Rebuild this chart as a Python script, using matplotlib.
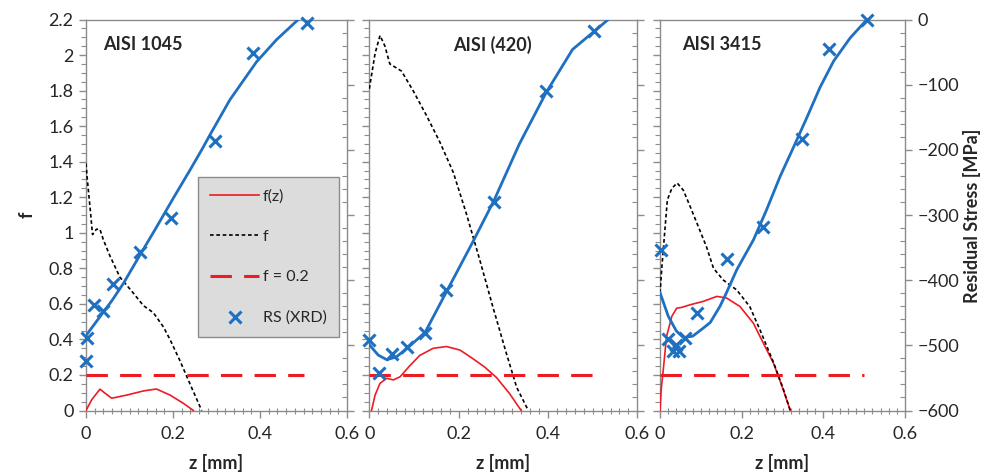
import matplotlib
matplotlib.use('Agg')
import matplotlib.pyplot as plt
from matplotlib.ticker import MultipleLocator, FuncFormatter
from matplotlib.lines import Line2D

plt.rcParams['font.family'] = ['Lato', 'DejaVu Sans']

# ---------------- data ----------------
titles = ['AISI 1045', 'AISI (420)', 'AISI 3415']

# f(z) red solid curves
fz_z_1045 = [0, 0.013, 0.032, 0.044, 0.059, 0.094, 0.132, 0.162, 0.193, 0.224, 0.247]
fz_f_1045 = [0, 0.06, 0.12, 0.097, 0.069, 0.087, 0.11, 0.121, 0.087, 0.04, 0]
fz_z_420 = [0.005, 0.013, 0.024, 0.039, 0.054, 0.069, 0.09, 0.113, 0.143, 0.173, 0.203, 0.23, 0.258, 0.285, 0.314, 0.34]
fz_f_420 = [0, 0.087, 0.153, 0.181, 0.172, 0.19, 0.25, 0.31, 0.35, 0.36, 0.34, 0.295, 0.245, 0.185, 0.095, 0]
fz_z_3415 = [0, 0.003, 0.008, 0.016, 0.029, 0.041, 0.053, 0.074, 0.106, 0.139, 0.163, 0.196, 0.229, 0.245, 0.278, 0.302, 0.319]
fz_f_3415 = [0, 0.12, 0.228, 0.416, 0.53, 0.576, 0.58, 0.595, 0.614, 0.642, 0.633, 0.585, 0.49, 0.416, 0.266, 0.116, 0]

# f black dashed curves
f_z_1045 = [0, 0.003, 0.009, 0.015, 0.024, 0.032, 0.04, 0.055, 0.078, 0.109, 0.132, 0.155, 0.178, 0.193, 0.216, 0.239, 0.266]
f_f_1045 = [1.39, 1.30, 1.15, 0.99, 1.02, 1.02, 0.96, 0.87, 0.75, 0.66, 0.59, 0.55, 0.47, 0.40, 0.28, 0.15, 0]
f_z_420 = [0, 0.013, 0.024, 0.035, 0.046, 0.072, 0.098, 0.128, 0.158, 0.188, 0.217, 0.247, 0.277, 0.307, 0.33, 0.356]
f_f_420 = [1.81, 2.01, 2.11, 2.05, 1.95, 1.91, 1.80, 1.66, 1.51, 1.34, 1.11, 0.85, 0.58, 0.32, 0.13, 0]
f_z_3415 = [0, 0.004, 0.012, 0.018, 0.029, 0.042, 0.057, 0.074, 0.094, 0.114, 0.131, 0.155, 0.188, 0.22, 0.245, 0.278, 0.302, 0.319]
f_f_3415 = [0.66, 0.79, 1.016, 1.185, 1.25, 1.28, 1.24, 1.147, 1.034, 0.92, 0.80, 0.734, 0.678, 0.584, 0.453, 0.27, 0.12, 0]

# threshold f = 0.2
thr_z = [0, 0.5]
thr_f = [0.2, 0.2]

# residual stress fit curves (MPa)
rs_fit_z_1045 = [0, 0.03, 0.06, 0.086, 0.12, 0.16, 0.2, 0.24, 0.266, 0.285, 0.331, 0.392, 0.438, 0.488]
rs_fit_1045 = [-485, -458, -431, -405, -366, -321, -275, -230, -200, -177, -123, -65, -31, 0]
rs_fit_z_420 = [0, 0.02, 0.039, 0.06, 0.084, 0.125, 0.171, 0.232, 0.279, 0.336, 0.396, 0.455, 0.502, 0.535]
rs_fit_420 = [-499, -515, -522, -518, -505, -480, -420, -341, -278, -191, -112, -46, -19, 0]
rs_fit_z_3415 = [0, 0.02, 0.04, 0.057, 0.08, 0.105, 0.123, 0.147, 0.163, 0.188, 0.229, 0.261, 0.294, 0.327, 0.36, 0.392, 0.425, 0.466, 0.507]
rs_fit_3415 = [-419, -455, -478, -488, -486, -474, -465, -440, -419, -384, -338, -292, -241, -196, -150, -104, -64, -28, 0]

# residual stress XRD measurements (MPa)
rs_z_1045 = [0, 0.003, 0.018, 0.038, 0.063, 0.123, 0.195, 0.296, 0.383, 0.508]
rs_1045 = [-524, -489, -438, -448, -406, -357, -305, -186, -51, -5]
rs_z_420 = [0, 0.022, 0.05, 0.084, 0.125, 0.171, 0.279, 0.396, 0.502]
rs_420 = [-492, -542, -513, -502, -481, -415, -280, -109, -18]
rs_z_3415 = [0.002, 0.020, 0.033, 0.039, 0.047, 0.061, 0.090, 0.163, 0.253, 0.347, 0.414, 0.507]
rs_3415 = [-354, -490, -508, -500, -508, -488, -450, -368, -319, -183, -46, 0]

fz_z = [fz_z_1045, fz_z_420, fz_z_3415]
fz_f = [fz_f_1045, fz_f_420, fz_f_3415]
f_z = [f_z_1045, f_z_420, f_z_3415]
f_f = [f_f_1045, f_f_420, f_f_3415]
rsf_z = [rs_fit_z_1045, rs_fit_z_420, rs_fit_z_3415]
rsf = [rs_fit_1045, rs_fit_420, rs_fit_3415]
rsm_z = [rs_z_1045, rs_z_420, rs_z_3415]
rsm = [rs_1045, rs_420, rs_3415]

legend_labels = ['f(z)', 'f', 'f = 0.2', 'RS (XRD)']

# ---------------- style ----------------
RED = '#EC1C24'
BLUE = '#1F70C1'
GRAY = '#8C8C8C'
TXT = '#262626'
FS = 13

fig = plt.figure(figsize=(10, 4.74), dpi=100)
fig.patch.set_facecolor('white')

bottom = 1 - 410.5 / 474
height = (410.5 - 19.5) / 474
positions = [[0.086, bottom, 0.261, height],
             [0.3693, bottom, 0.268, height],
             [0.660, bottom, 0.245, height]]
title_pos = [(0.065, 'left'), (0.458, 'center'), (0.089, 'left')]

fmt = FuncFormatter(lambda v, p: '%g' % round(v, 3))

for i in range(3):
    ax = fig.add_axes(positions[i])
    ax.set_xlim(0, 0.6)
    ax.set_ylim(0, 2.2)
    for s in ax.spines.values():
        s.set_color(GRAY)
        s.set_linewidth(1.0)
    ax.xaxis.set_major_locator(MultipleLocator(0.2))
    ax.xaxis.set_minor_locator(MultipleLocator(0.02))
    ax.yaxis.set_major_locator(MultipleLocator(0.2))
    ax.yaxis.set_minor_locator(MultipleLocator(0.05))
    ax.xaxis.set_major_formatter(fmt)
    ax.yaxis.set_major_formatter(fmt)
    ax.tick_params(axis='both', which='major', direction='out', length=5, width=1,
                   color=GRAY, labelsize=FS, labelcolor=TXT, pad=4)
    ax.tick_params(axis='x', which='major', pad=6)
    ax.tick_params(axis='y', which='minor', direction='out', length=3.5, width=0.8, color=GRAY)
    ax.tick_params(axis='x', which='minor', direction='inout', length=5, width=0.8, color=GRAY)
    if i > 0:
        ax.tick_params(axis='y', labelleft=False)

    ax.plot(fz_z[i], fz_f[i], color=RED, lw=1.2, zorder=3)
    ax.plot(f_z[i], f_f[i], color='black', lw=1.2, ls=(0, (2.2, 1.6)), zorder=3)
    ax.plot(thr_z, thr_f, color=RED, lw=2.2, ls=(0, (7, 4)), zorder=3)

    ax2 = ax.twinx()
    ax2.set_ylim(-600, 0)
    for s in ax2.spines.values():
        s.set_visible(False)
    ax2.yaxis.set_major_locator(MultipleLocator(100))
    ax2.yaxis.set_minor_locator(MultipleLocator(20))
    ax2.tick_params(axis='y', which='major', direction='out', length=5, width=1,
                    color=GRAY, labelsize=FS, labelcolor=TXT, pad=4)
    ax2.tick_params(axis='y', which='minor', direction='in', length=3.5, width=0.8, color=GRAY)
    if i < 2:
        ax2.tick_params(axis='y', labelright=False)
    ax2.plot(rsf_z[i], rsf[i], color=BLUE, lw=2.0, zorder=4)
    ax2.plot(rsm_z[i], rsm[i], ls='none', marker='x', ms=9, mew=2.2, color=BLUE, zorder=5,
             clip_on=False)

    ax.text(title_pos[i][0], 0.935, titles[i], transform=ax.transAxes, ha=title_pos[i][1],
            va='center', fontsize=FS, fontweight='bold', color=TXT)

    cx = positions[i][0] + positions[i][2] / 2
    fig.text(cx, 1 - 463 / 474, 'z [mm]', ha='center', va='center', fontsize=FS,
             fontweight='bold', color=TXT)

    if i == 0:
        handles = [Line2D([], [], color=RED, lw=1.2),
                   Line2D([], [], color='black', lw=1.2, ls=(0, (2.2, 1.6))),
                   Line2D([], [], color=RED, lw=2.2, ls=(0, (7, 4))),
                   Line2D([], [], ls='none', marker='x', ms=9, mew=2.2, color=BLUE)]
        leg = ax2.legend(handles, legend_labels, loc='upper left',
                         bbox_to_anchor=(0.429, 0.597), fontsize=11.5, labelspacing=1.65,
                         handlelength=3.1, handletextpad=0.2, borderpad=0.75,
                         fancybox=False, framealpha=1, borderaxespad=0)
        leg.get_frame().set_facecolor('#DCDCDC')
        leg.get_frame().set_edgecolor(GRAY)
        for t in leg.get_texts():
            t.set_color(TXT)

fig.text(0.027, 1 - 215 / 474, 'f', rotation=90, ha='center', va='center', fontsize=FS,
         fontweight='bold', color=TXT)
fig.text(0.972, 1 - 216 / 474, 'Residual Stress [MPa]', rotation=90, ha='center', va='center',
         fontsize=FS, fontweight='bold', color=TXT)

fig.savefig('out.png', dpi=100, facecolor='white')
